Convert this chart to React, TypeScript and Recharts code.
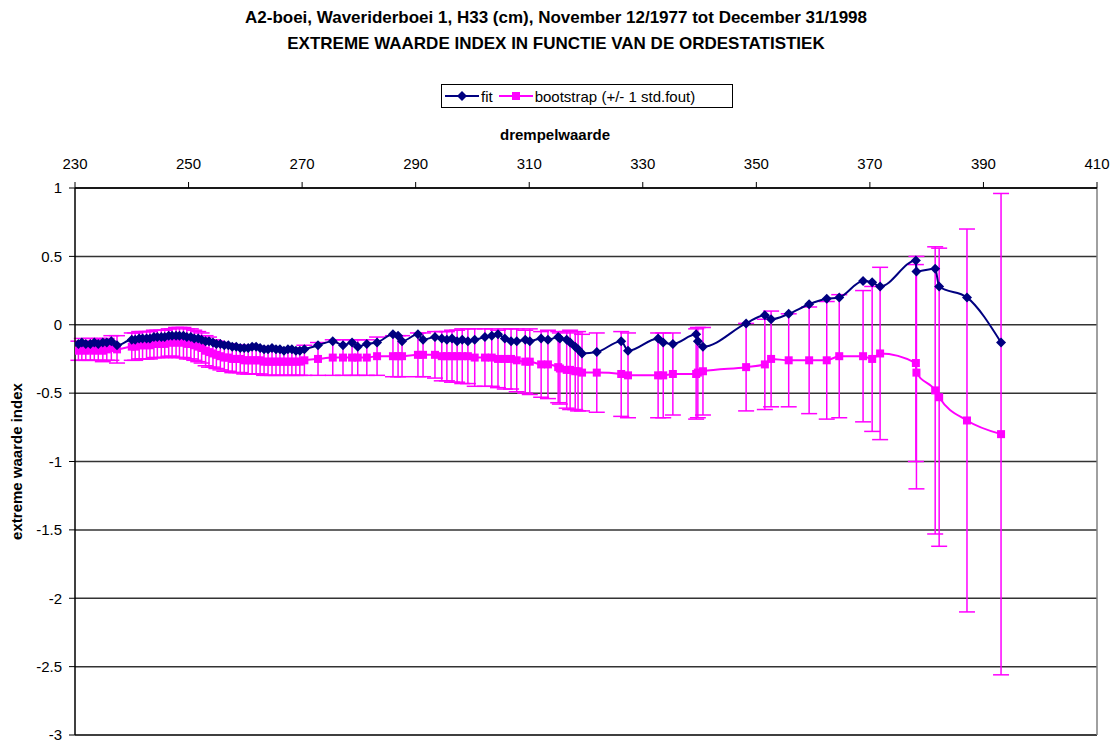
import { LineChart, Line, XAxis, YAxis, CartesianGrid, ErrorBar, ReferenceLine } from "recharts"

// drempelwaarde (cm) per ordestatistiek
const drempel = [
  230.6, 231.2, 231.9, 232.7, 233.4, 234.1, 234.9, 235.6, 236.4, 237.4,
  240.0, 240.6, 241.3, 241.9, 242.6, 243.2, 243.9, 244.5, 245.2, 245.8, 246.5, 247.1, 247.8,
  248.4, 249.1, 249.7, 250.4, 251.0, 251.7, 252.3, 253.0, 253.6, 254.3, 254.9, 255.6, 256.3,
  257.0, 257.7, 258.4, 259.1, 259.8, 260.5, 261.2, 261.9, 262.6, 263.3, 264.0, 264.7, 265.4,
  266.1, 266.8, 267.5, 268.2, 268.9, 269.6, 270.4,
  272.8, 275.4, 277.2, 278.8, 279.8, 281.4, 283.2, 286.0, 286.9, 287.6, 290.4, 291.3, 293.4,
  294.6, 295.5, 296.4, 297.3, 298.2, 299.2, 300.4, 302.2, 303.4, 304.5, 305.7, 306.8, 307.8,
  309.3, 310.1, 312.1, 313.3, 315.1, 315.4, 316.6, 317.2, 318.1, 318.6, 319.3, 321.9, 326.2,
  327.4, 332.7, 333.6, 335.3, 339.4, 339.7, 340.6, 348.2, 351.5, 352.6, 355.7, 359.3, 362.4,
  364.6, 368.8, 370.4, 371.8, 378.1, 378.2, 381.5, 382.2, 387.1, 393.1,
]

// extreme waarde index, fit
const fitWaarde = [
  -0.14, -0.13, -0.14, -0.14, -0.13, -0.14, -0.13, -0.13, -0.12, -0.15,
  -0.11, -0.11, -0.1, -0.1, -0.1, -0.1, -0.09, -0.09, -0.09, -0.09, -0.08, -0.08, -0.08,
  -0.08, -0.08, -0.09, -0.09, -0.1, -0.1, -0.11, -0.12, -0.12, -0.13, -0.14, -0.14, -0.15,
  -0.15, -0.16, -0.16, -0.17, -0.17, -0.17, -0.16, -0.16, -0.17, -0.18, -0.18, -0.17, -0.18,
  -0.18, -0.19, -0.18, -0.18, -0.19, -0.19, -0.18,
  -0.15, -0.12, -0.15, -0.13, -0.16, -0.14, -0.13, -0.07, -0.08, -0.12, -0.07, -0.11, -0.09,
  -0.1, -0.11, -0.1, -0.12, -0.11, -0.12, -0.11, -0.09, -0.08, -0.07, -0.1, -0.12, -0.12,
  -0.11, -0.12, -0.1, -0.11, -0.09, -0.1, -0.11, -0.13, -0.16, -0.18, -0.21, -0.2, -0.12,
  -0.19, -0.1, -0.13, -0.14, -0.07, -0.12, -0.16, 0.01, 0.07, 0.04, 0.08, 0.15, 0.19,
  0.2, 0.32, 0.31, 0.28, 0.47, 0.39, 0.41, 0.28, 0.2, -0.13,
]

// bootstrap gemiddelde
const bootWaarde = [
  -0.19, -0.18, -0.19, -0.18, -0.19, -0.18, -0.19, -0.18, -0.17, -0.18,
  -0.16, -0.16, -0.15, -0.15, -0.15, -0.15, -0.14, -0.14, -0.14, -0.14, -0.13, -0.13, -0.13,
  -0.13, -0.13, -0.14, -0.14, -0.15, -0.16, -0.17, -0.19, -0.2, -0.21, -0.22, -0.23, -0.24,
  -0.24, -0.25, -0.25, -0.25, -0.26, -0.26, -0.26, -0.26, -0.26, -0.27, -0.27, -0.27, -0.27,
  -0.27, -0.27, -0.27, -0.27, -0.27, -0.27, -0.26,
  -0.25, -0.24, -0.24, -0.24, -0.24, -0.24, -0.23, -0.23, -0.23, -0.23, -0.22, -0.22, -0.22,
  -0.23, -0.23, -0.23, -0.23, -0.23, -0.23, -0.24, -0.24, -0.24, -0.25, -0.25, -0.25, -0.26,
  -0.27, -0.27, -0.29, -0.29, -0.31, -0.32, -0.33, -0.33, -0.34, -0.34, -0.35, -0.35, -0.36,
  -0.37, -0.37, -0.37, -0.36, -0.36, -0.35, -0.34, -0.31, -0.29, -0.25, -0.26, -0.26, -0.26,
  -0.23, -0.23, -0.25, -0.21, -0.28, -0.35, -0.48, -0.53, -0.7, -0.8,
]

// +/- 1 std.fout
const stdFout = [
  0.07, 0.08, 0.07, 0.08, 0.07, 0.08, 0.08, 0.08, 0.09, 0.1,
  0.1, 0.1, 0.1, 0.1, 0.1, 0.1, 0.1, 0.1, 0.1, 0.1, 0.1, 0.1, 0.11,
  0.11, 0.11, 0.11, 0.11, 0.11, 0.11, 0.11, 0.11, 0.11, 0.1, 0.1, 0.1, 0.1,
  0.1, 0.1, 0.1, 0.1, 0.1, 0.1, 0.1, 0.1, 0.1, 0.1, 0.1, 0.1, 0.1,
  0.1, 0.1, 0.1, 0.1, 0.1, 0.1, 0.11,
  0.12, 0.13, 0.13, 0.13, 0.13, 0.13, 0.14, 0.15, 0.15, 0.15, 0.16, 0.16, 0.17,
  0.18, 0.18, 0.19, 0.19, 0.2, 0.2, 0.21, 0.21, 0.21, 0.21, 0.22, 0.22, 0.23,
  0.23, 0.24, 0.24, 0.25, 0.26, 0.26, 0.28, 0.29, 0.28, 0.29, 0.28, 0.29, 0.31,
  0.31, 0.31, 0.31, 0.3, 0.33, 0.33, 0.32, 0.32, 0.33, 0.35, 0.34, 0.39, 0.43,
  0.45, 0.48, 0.53, 0.63, 0.72, 0.85, 1.05, 1.09, 1.4, 1.76,
]

const xTicks = [230, 250, 270, 290, 310, 330, 350, 370, 390, 410]
const yTicks = [-3, -2.5, -2, -1.5, -1, -0.5, 0, 0.5, 1]

const data = drempel.map((x, i) => ({
  x,
  fit: fitWaarde[i],
  boot: bootWaarde[i],
  fout: stdFout[i],
}))

const FONT = '"Liberation Sans", Arial, sans-serif'
const NAVY = "#000080"
const MAGENTA = "#ff00ff"

function Diamond(props: any) {
  const { cx, cy, index } = props
  if (cx == null || cy == null) return <g key={`d-${index}`} />
  return (
    <path
      key={`d-${index}`}
      d={`M${cx},${cy - 5}L${cx + 5},${cy}L${cx},${cy + 5}L${cx - 5},${cy}Z`}
      fill={NAVY}
    />
  )
}

function Square(props: any) {
  const { cx, cy, index } = props
  if (cx == null || cy == null) return <g key={`s-${index}`} />
  return <rect key={`s-${index}`} x={cx - 4} y={cy - 4} width={8} height={8} fill={MAGENTA} />
}

function Legend() {
  return (
    <div
      style={{
        position: "absolute",
        left: 441,
        top: 84,
        width: 290,
        height: 22,
        border: "1px solid #000",
        display: "flex",
        alignItems: "center",
        fontSize: 15,
        whiteSpace: "nowrap",
      }}
    >
      <svg width={34} height={14} style={{ marginLeft: 3 }}>
        <line x1={0} y1={7} x2={34} y2={7} stroke={NAVY} strokeWidth={2} />
        <path d="M17,2L22,7L17,12L12,7Z" fill={NAVY} />
      </svg>
      <span style={{ marginLeft: 2 }}>fit</span>
      <svg width={34} height={14} style={{ marginLeft: 6 }}>
        <line x1={0} y1={7} x2={34} y2={7} stroke={MAGENTA} strokeWidth={2} />
        <rect x={13} y={3} width={8} height={8} fill={MAGENTA} />
      </svg>
      <span style={{ marginLeft: 2 }}>bootstrap (+/- 1 std.fout)</span>
    </div>
  )
}

export default function App() {
  return (
    <div
      style={{
        position: "absolute",
        left: 0,
        top: 0,
        width: 1112,
        height: 742,
        background: "#fff",
        fontFamily: FONT,
        color: "#000",
      }}
    >
      <div
        style={{
          position: "absolute",
          left: 0,
          top: 5,
          width: 1112,
          textAlign: "center",
          fontWeight: "bold",
          fontSize: 17,
          lineHeight: "26px",
        }}
      >
        <div>A2-boei, Waveriderboei 1, H33 (cm), November 12/1977 tot December 31/1998</div>
        <div>EXTREME WAARDE INDEX IN FUNCTIE VAN DE ORDESTATISTIEK</div>
      </div>
      <Legend />
      <LineChart
        width={1112}
        height={742}
        data={data}
        margin={{ top: 150, right: 15, bottom: 7, left: 0 }}
        style={{ position: "absolute", left: 0, top: 0 }}
      >
        <CartesianGrid vertical={false} stroke="#333" strokeWidth={1.5} />
        <XAxis
          dataKey="x"
          type="number"
          orientation="top"
          domain={[230, 410]}
          ticks={xTicks}
          interval={0}
          allowDataOverflow
          height={38}
          tickSize={6}
          tickMargin={13}
          axisLine={{ stroke: "#000", strokeWidth: 1.5 }}
          tickLine={{ stroke: "#000" }}
          tick={{ fill: "#000", fontSize: 15, fontFamily: FONT }}
          label={{
            value: "drempelwaarde",
            position: "top",
            offset: 10,
            dx: -31,
            style: { fontWeight: "bold", fontSize: 15, fill: "#000", fontFamily: FONT },
          }}
        />
        <YAxis
          type="number"
          domain={[-3, 1]}
          ticks={yTicks}
          interval={0}
          allowDataOverflow
          width={75}
          tickSize={6}
          tickMargin={7}
          axisLine={{ stroke: "#000", strokeWidth: 1.5 }}
          tickLine={{ stroke: "#000" }}
          tick={{ fill: "#000", fontSize: 15, fontFamily: FONT }}
          label={{
            value: "extreme waarde index",
            angle: -90,
            position: "insideLeft",
            offset: 17,
            style: { textAnchor: "middle", fontWeight: "bold", fontSize: 15, fill: "#000", fontFamily: FONT },
          }}
        />
        <ReferenceLine y={-3} stroke="#333" strokeWidth={1.5} />
        <ReferenceLine x={410} stroke="#808080" strokeWidth={1.5} />
        <Line
          dataKey="boot"
          type="monotone"
          stroke={MAGENTA}
          strokeWidth={2}
          dot={Square}
          activeDot={false}
          isAnimationActive={false}
        >
          <ErrorBar dataKey="fout" direction="y" width={8} stroke={MAGENTA} strokeWidth={1.5} isAnimationActive={false} />
        </Line>
        <Line
          dataKey="fit"
          type="monotone"
          stroke={NAVY}
          strokeWidth={2}
          dot={Diamond}
          activeDot={false}
          isAnimationActive={false}
        />
      </LineChart>
    </div>
  )
}
